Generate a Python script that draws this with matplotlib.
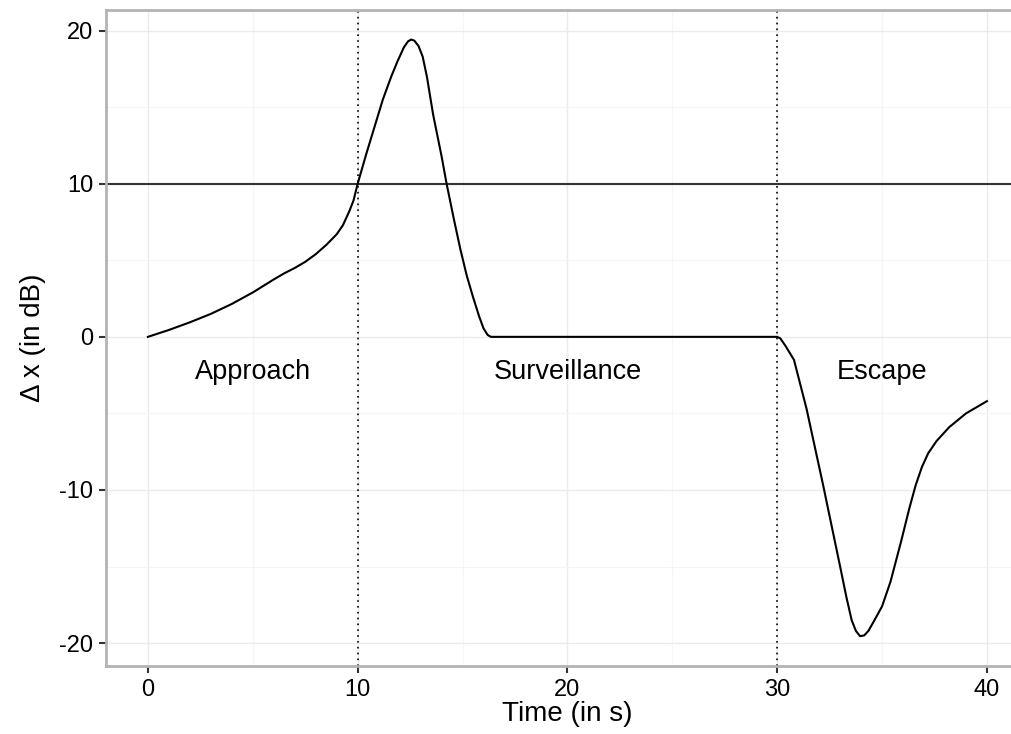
import numpy as np
import matplotlib
matplotlib.use('Agg')
import matplotlib.pyplot as plt
from matplotlib.ticker import MultipleLocator, FuncFormatter

plt.rcParams['font.family'] = ['Liberation Sans', 'DejaVu Sans']

# values
time = [0, 1, 2, 3, 4, 5, 6, 6.5, 7, 7.5, 8, 8.5, 9, 9.3, 9.6, 9.8, 10,
        10.4, 10.8, 11.2, 11.6, 11.9, 12.2, 12.4, 12.55, 12.7, 12.9, 13.1, 13.3, 13.6, 14.0,
        14.24, 14.6, 14.9, 15.2, 15.5, 15.8, 16.0, 16.2, 16.35,
        30, 30.15, 30.4, 30.8, 31.4, 32.2, 33.0, 33.3, 33.55, 33.75, 33.95, 34.15, 34.35,
        34.6, 35.0, 35.4, 35.9, 36.3, 36.6, 36.9, 37.2, 37.6, 38.2, 39.0, 40]
dx = [0, 0.45, 0.95, 1.5, 2.15, 2.9, 3.75, 4.15, 4.5, 4.9, 5.4, 6.0, 6.7, 7.3, 8.2, 8.9, 10.0,
      11.9, 13.7, 15.5, 17.0, 18.0, 18.9, 19.3, 19.42, 19.35, 19.0, 18.3, 17.0, 14.5, 11.8,
      10.0, 7.6, 5.7, 4.0, 2.6, 1.3, 0.55, 0.12, 0,
      0, -0.1, -0.6, -1.5, -4.7, -9.75, -15.0, -17.0, -18.5, -19.2, -19.55, -19.5, -19.2,
      -18.6, -17.6, -16.0, -13.4, -11.2, -9.7, -8.5, -7.6, -6.8, -5.9, -5.0, -4.2]

phase_bounds = [10, 30]
threshold = 10
phase_names = ['Approach', 'Surveillance', 'Escape']
phase_x = [5, 20, 35]
phase_y = -2.3

fig = plt.figure(figsize=(10.12, 7.34), dpi=100)
ax = fig.add_axes([0.1047, 0.0926, 0.912, 0.8938])

ax.set_xlim(-2, 42)
ax.set_ylim(-21.5, 21.35)
ax.xaxis.set_major_locator(MultipleLocator(10))
ax.xaxis.set_minor_locator(MultipleLocator(5))
ax.yaxis.set_major_locator(MultipleLocator(10))
ax.yaxis.set_minor_locator(MultipleLocator(5))

ax.grid(True, which='major', color='#ebebeb', lw=1.0)
ax.grid(True, which='minor', color='#f5f5f5', lw=0.8)
ax.set_axisbelow(True)

ax.axhline(threshold, color='#333333', lw=1.5, zorder=2)
for b in phase_bounds:
    ax.axvline(b, color='black', lw=1.2, ls=(0, (1, 2.5)), zorder=2)

ax.plot(time, dx, color='black', lw=1.5, zorder=3)

for name, px in zip(phase_names, phase_x):
    ax.text(px, phase_y, name, ha='center', va='center', fontsize=19.5)

for s in ['top', 'left', 'bottom']:
    ax.spines[s].set_color('#b3b3b3')
    ax.spines[s].set_linewidth(2)
ax.spines['right'].set_visible(False)

ax.tick_params(which='major', length=5, width=1.5, color='#333333',
               labelsize=17, labelcolor='black', pad=4)
ax.tick_params(which='minor', length=0)
ax.yaxis.set_major_formatter(FuncFormatter(lambda v, p: '%d' % v))

ax.set_xlabel('Time (in s)', fontsize=20, labelpad=0)
ax.set_ylabel('Δ x (in dB)', fontsize=20, labelpad=10)

fig.savefig('out.png', dpi=100)
